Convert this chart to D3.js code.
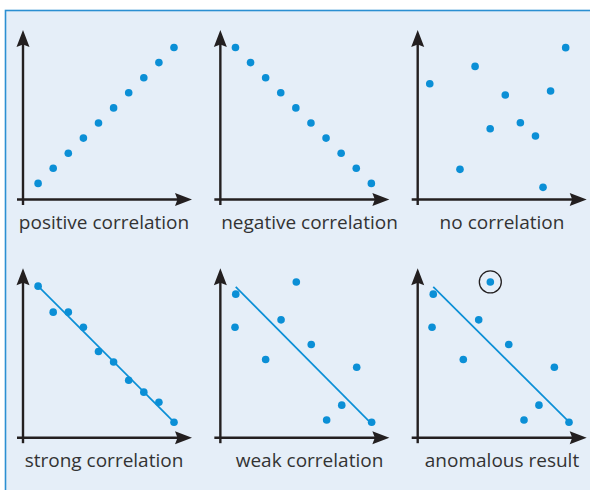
<!DOCTYPE html>
<html>
<head>
<meta charset="utf-8">
<script src="https://cdn.jsdelivr.net/npm/d3@7"></script>
<style>
  html, body { margin: 0; padding: 0; background: #ffffff; }
  svg { display: block; }
</style>
</head>
<body>
<svg id="chart" width="590" height="490"></svg>
<script>
// ---- data (abstract units, 0..10 on both axes) ----
const labels = ["positive correlation", "negative correlation", "no correlation",
                "strong correlation", "weak correlation", "anomalous result"];

const positiveX = [1, 2, 3, 4, 5, 6, 7, 8, 9, 10];
const positiveY = [1, 2, 3, 4, 5, 6, 7, 8, 9, 10];

const negativeX = [1, 2, 3, 4, 5, 6, 7, 8, 9, 10];
const negativeY = [10, 9, 8, 7, 6, 5, 4, 3, 2, 1];

const noneX = [0.8, 3.8, 2.8, 4.8, 5.8, 6.8, 7.8, 8.3, 8.8, 9.8];
const noneY = [7.6, 8.75, 1.93, 4.62, 6.85, 5.02, 4.14, 0.74, 7.12, 9.99];

const strongX = [1, 2, 3, 4, 5, 6, 7, 8, 9, 10];
const strongY = [9.97, 8.25, 8.25, 7.25, 5.64, 4.95, 3.74, 2.95, 2.28, 0.96];
const strongTrend = [[1, 9.97], [10, 0.96]];

const weakX = [1.02, 0.97, 3.0, 4.02, 5.03, 6.02, 7.04, 8.04, 9.03, 10.02];
const weakY = [9.44, 7.25, 5.11, 7.74, 10.25, 6.11, 1.11, 2.09, 4.6, 0.96];
const weakTrend = [[1.02, 9.92], [9.84, 1.03]];

const anomalousX = [1.03, 0.95, 3.02, 4.04, 4.81, 6.03, 7.04, 8.03, 9.05, 10.02];
const anomalousY = [9.44, 7.25, 5.11, 7.74, 10.25, 6.11, 1.11, 2.09, 4.6, 0.96];
const anomalousTrend = [[1.03, 9.92], [10.02, 0.98]];
const anomalyIndex = 4;

// ---- layout ----
const svg = d3.select("#chart");
const colOrigin = [23, 220.35, 417.7];
const rowOrigin = [199.5, 437.7];
const labelCenter = [104, 309.5, 502];
const labelBaseline = [229, 467];

const dotColor = "#0b8fd6";
const axisColor = "#231f20";

svg.append("rect").attr("x", 5.5).attr("y", 10.5).attr("width", 600).attr("height", 500)
  .attr("fill", "#e5eef8").attr("stroke", "#2b8fd2").attr("stroke-width", 1.6);

const panels = [
  { xs: positiveX, ys: positiveY },
  { xs: negativeX, ys: negativeY },
  { xs: noneX, ys: noneY },
  { xs: strongX, ys: strongY, trend: strongTrend },
  { xs: weakX, ys: weakY, trend: weakTrend },
  { xs: anomalousX, ys: anomalousY, trend: anomalousTrend, anomaly: anomalyIndex }
];

panels.forEach((p, i) => {
  const col = i % 3, row = Math.floor(i / 3);
  const ox = colOrigin[col], oy = rowOrigin[row];
  const x = d3.scaleLinear().domain([0, 10]).range([ox, ox + 151]);
  const y = d3.scaleLinear().domain([0, 10]).range([oy - 1, oy - 152]);
  const g = svg.append("g");

  // axes
  const yTop = oy - 169.5, xTip = ox + 169;
  g.append("line").attr("x1", ox).attr("x2", ox).attr("y1", yTop + 8).attr("y2", oy + 5.5)
    .attr("stroke", axisColor).attr("stroke-width", 2.4);
  g.append("line").attr("x1", ox - 6).attr("x2", xTip - 8).attr("y1", oy).attr("y2", oy)
    .attr("stroke", axisColor).attr("stroke-width", 2.4);
  g.append("path")
    .attr("d", `M${ox},${yTop} L${ox + 6.5},${yTop + 17} L${ox},${yTop + 14.5} L${ox - 6.5},${yTop + 17} Z`)
    .attr("fill", axisColor);
  g.append("path")
    .attr("d", `M${xTip},${oy} L${xTip - 17},${oy - 6.5} L${xTip - 14.5},${oy} L${xTip - 17},${oy + 6.5} Z`)
    .attr("fill", axisColor);

  // trend line
  if (p.trend) {
    g.append("line")
      .attr("x1", x(p.trend[0][0])).attr("y1", y(p.trend[0][1]))
      .attr("x2", x(p.trend[1][0])).attr("y2", y(p.trend[1][1]))
      .attr("stroke", dotColor).attr("stroke-width", 1.7);
  }

  // points
  const pts = p.xs.map((v, k) => [v, p.ys[k]]);
  g.selectAll("circle.dot").data(pts).join("circle").attr("class", "dot")
    .attr("cx", d => x(d[0])).attr("cy", d => y(d[1])).attr("r", 3.8)
    .attr("fill", dotColor);

  if (p.anomaly !== undefined) {
    const d = pts[p.anomaly];
    g.append("circle").attr("cx", x(d[0])).attr("cy", y(d[1])).attr("r", 11)
      .attr("fill", "none").attr("stroke", axisColor).attr("stroke-width", 1.3);
  }

  g.append("text").attr("x", labelCenter[col]).attr("y", labelBaseline[row])
    .attr("text-anchor", "middle")
    .attr("font-family", "'Open Sans', sans-serif").attr("font-size", 19)
    .attr("fill", "#333333").text(labels[i]);
});
</script>
</body>
</html>
